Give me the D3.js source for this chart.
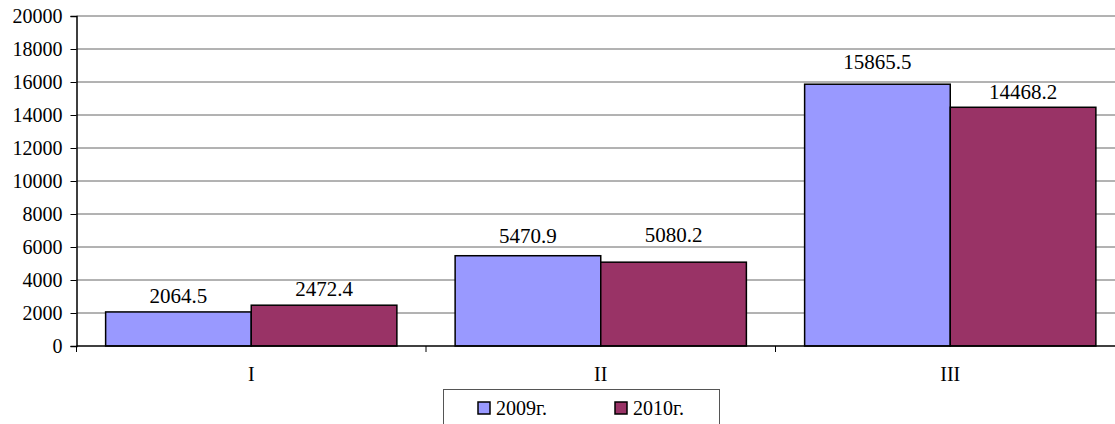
<!DOCTYPE html>
<html>
<head>
<meta charset="utf-8">
<script src="https://cdn.jsdelivr.net/npm/d3@7"></script>
<style>
body { margin: 0; background: #fff; }
</style>
</head>
<body>
<script>
// data
const categories = ['I', 'II', 'III'];
const seriesNames = ['2009г.', '2010г.'];
const values2009 = [2064.5, 5470.9, 15865.5];
const values2010 = [2472.4, 5080.2, 14468.2];
const yTicks = [0, 2000, 4000, 6000, 8000, 10000, 12000, 14000, 16000, 18000, 20000];
const colors = ['#9999FF', '#993366'];
// label lift above each bar top (px), per category / series, as placed in the original
const labelGap = [[9, 9], [13, 20], [15, 8]];

const FONT = "Times New Roman, serif";
const W = 1115, H = 424;
const svg = d3.select('body').append('svg')
  .attr('width', W).attr('height', H)
  .style('font-family', FONT);

const plotLeft = 76.5, plotRight = 1125, plotTop = 16, plotBottom = 346;

const x = d3.scaleBand().domain(categories).range([plotLeft, plotRight]);
const inner = d3.scaleBand().domain(seriesNames)
  .range([0, x.bandwidth()]).paddingOuter(0.2);
const y = d3.scaleLinear().domain([0, 20000]).range([plotBottom, plotTop]);

// gridlines
svg.append('g').selectAll('line').data(yTicks.slice(1)).join('line')
  .attr('x1', plotLeft).attr('x2', W)
  .attr('y1', d => y(d)).attr('y2', d => y(d))
  .attr('stroke', '#666').attr('stroke-width', 1);

// bars
const rows = categories.map((c, i) => ({cat: c, i, vals: [values2009[i], values2010[i]]}));
const groups = svg.append('g').selectAll('g').data(rows).join('g')
  .attr('transform', d => `translate(${x(d.cat)},0)`);

groups.selectAll('rect').data(d => d.vals.map((v, j) => ({v, s: seriesNames[j], j}))).join('rect')
  .attr('x', d => inner(d.s))
  .attr('width', inner.bandwidth())
  .attr('y', d => y(d.v))
  .attr('height', d => y(0) - y(d.v))
  .attr('fill', d => colors[d.j])
  .attr('stroke', '#000').attr('stroke-width', 1.5);

groups.selectAll('text').data(d => d.vals.map((v, j) => ({v, s: seriesNames[j], gap: labelGap[d.i][j]}))).join('text')
  .attr('x', d => inner(d.s) + inner.bandwidth() / 2)
  .attr('y', d => y(d.v) - d.gap)
  .attr('text-anchor', 'middle')
  .style('font-family', FONT).style('font-size', '21px')
  .text(d => d.v.toFixed(1));

// y axis
const yAxis = svg.append('g').attr('transform', `translate(${plotLeft},0)`)
  .call(d3.axisLeft(y).tickValues(yTicks).tickSize(6).tickPadding(8).tickFormat(d3.format('d')));
yAxis.attr('font-family', null).attr('font-size', null);
yAxis.select('.domain').attr('stroke', '#000').attr('stroke-width', 1.5);
yAxis.selectAll('.tick line').attr('stroke', '#000');
yAxis.selectAll('text').style('font-family', FONT).style('font-size', '20px').attr('fill', '#000');

// x axis
svg.append('line').attr('x1', plotLeft).attr('x2', W).attr('y1', plotBottom).attr('y2', plotBottom)
  .attr('stroke', '#000').attr('stroke-width', 1.5);
svg.append('g').selectAll('line').data(categories).join('line')
  .attr('x1', d => x(d)).attr('x2', d => x(d))
  .attr('y1', plotBottom).attr('y2', plotBottom + 6)
  .attr('stroke', '#000');
svg.append('g').selectAll('text').data(categories).join('text')
  .attr('x', d => x(d) + x.bandwidth() / 2)
  .attr('y', 381)
  .attr('text-anchor', 'middle')
  .style('font-family', FONT).style('font-size', '20px')
  .text(d => d);

// legend
const legend = svg.append('g');
legend.append('rect').attr('x', 443.5).attr('y', 389.5).attr('width', 276).attr('height', 50)
  .attr('fill', '#fff').attr('stroke', '#555');
const legX = [478, 615];
seriesNames.forEach((s, i) => {
  legend.append('rect').attr('x', legX[i]).attr('y', 402).attr('width', 12).attr('height', 12)
    .attr('fill', colors[i]).attr('stroke', '#000').attr('stroke-width', 1.5);
  legend.append('text').attr('x', legX[i] + 18).attr('y', 415)
    .style('font-family', FONT).style('font-size', '20px').text(s);
});
</script>
</body>
</html>
